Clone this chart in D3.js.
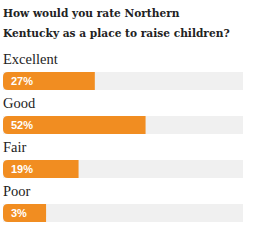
<!DOCTYPE html>
<html>
<head>
<meta charset="utf-8">
<script src="https://cdn.jsdelivr.net/npm/d3@7"></script>
<style>
	body { margin: 0; background: #fff; }
</style>
</head>
<body>
<svg id="chart" width="260" height="246"></svg>
<script>
const titleLines = ["How would you rate Northern", "Kentucky as a place to raise children?"];
const categories = ["Excellent", "Good", "Fair", "Poor"];
const percents = [27, 52, 19, 3];

const svg = d3.select('#chart');

const left = 3, trackW = 240;
const barH = 18;

// title
svg.selectAll('text.title')
	.data(titleLines)
	.enter().append('text')
	.attr('class', 'title')
	.attr('x', left)
	.attr('y', (d, i) => 17 + i*20)
	.attr('font-family', 'DejaVu Serif Condensed, DejaVu Serif')
	.attr('font-stretch', 'condensed')
	.attr('font-weight', 'bold')
	.attr('font-size', 11.8)
	.attr('fill', '#222')
	.text(d => d);

const y = d3.scaleBand().domain(categories).range([46, 222]).paddingInner(0).paddingOuter(0);
// fill width: room for the label plus share of the rest
const w = d3.scaleLinear().domain([0, 100]).range([37, trackW]);

const row = svg.selectAll('g.row')
	.data(categories)
	.enter().append('g')
	.attr('class', 'row')
	.attr('transform', d => 'translate(0,' + y(d) + ')');

row.append('text')
	.attr('x', left)
	.attr('y', 18)
	.attr('font-family', 'Liberation Serif')
	.attr('font-size', 14.5)
	.attr('fill', '#222')
	.text(d => d);

row.append('rect')
	.attr('x', left)
	.attr('y', 26)
	.attr('width', trackW)
	.attr('height', barH)
	.attr('fill', '#f0f0f0');

const r = 5;
row.append('path')
	.attr('d', (d, i) => {
		const x0 = left, x1 = left + w(percents[i]), y0 = 26, y1 = 26 + barH;
		return 'M' + x1 + ',' + y0 + 'H' + (x0 + r) + 'Q' + x0 + ',' + y0 + ' ' + x0 + ',' + (y0 + r) +
			'V' + (y1 - r) + 'Q' + x0 + ',' + y1 + ' ' + (x0 + r) + ',' + y1 + 'H' + x1 + 'Z';
	})
	.attr('fill', '#f18d21');

row.append('text')
	.attr('x', 11)
	.attr('y', 26 + barH/2)
	.attr('dy', '0.36em')
	.attr('font-family', 'Liberation Sans')
	.attr('font-weight', 'bold')
	.attr('font-size', 11)
	.attr('fill', '#fff')
	.text((d, i) => percents[i] + '%');
</script>
</body>
</html>
